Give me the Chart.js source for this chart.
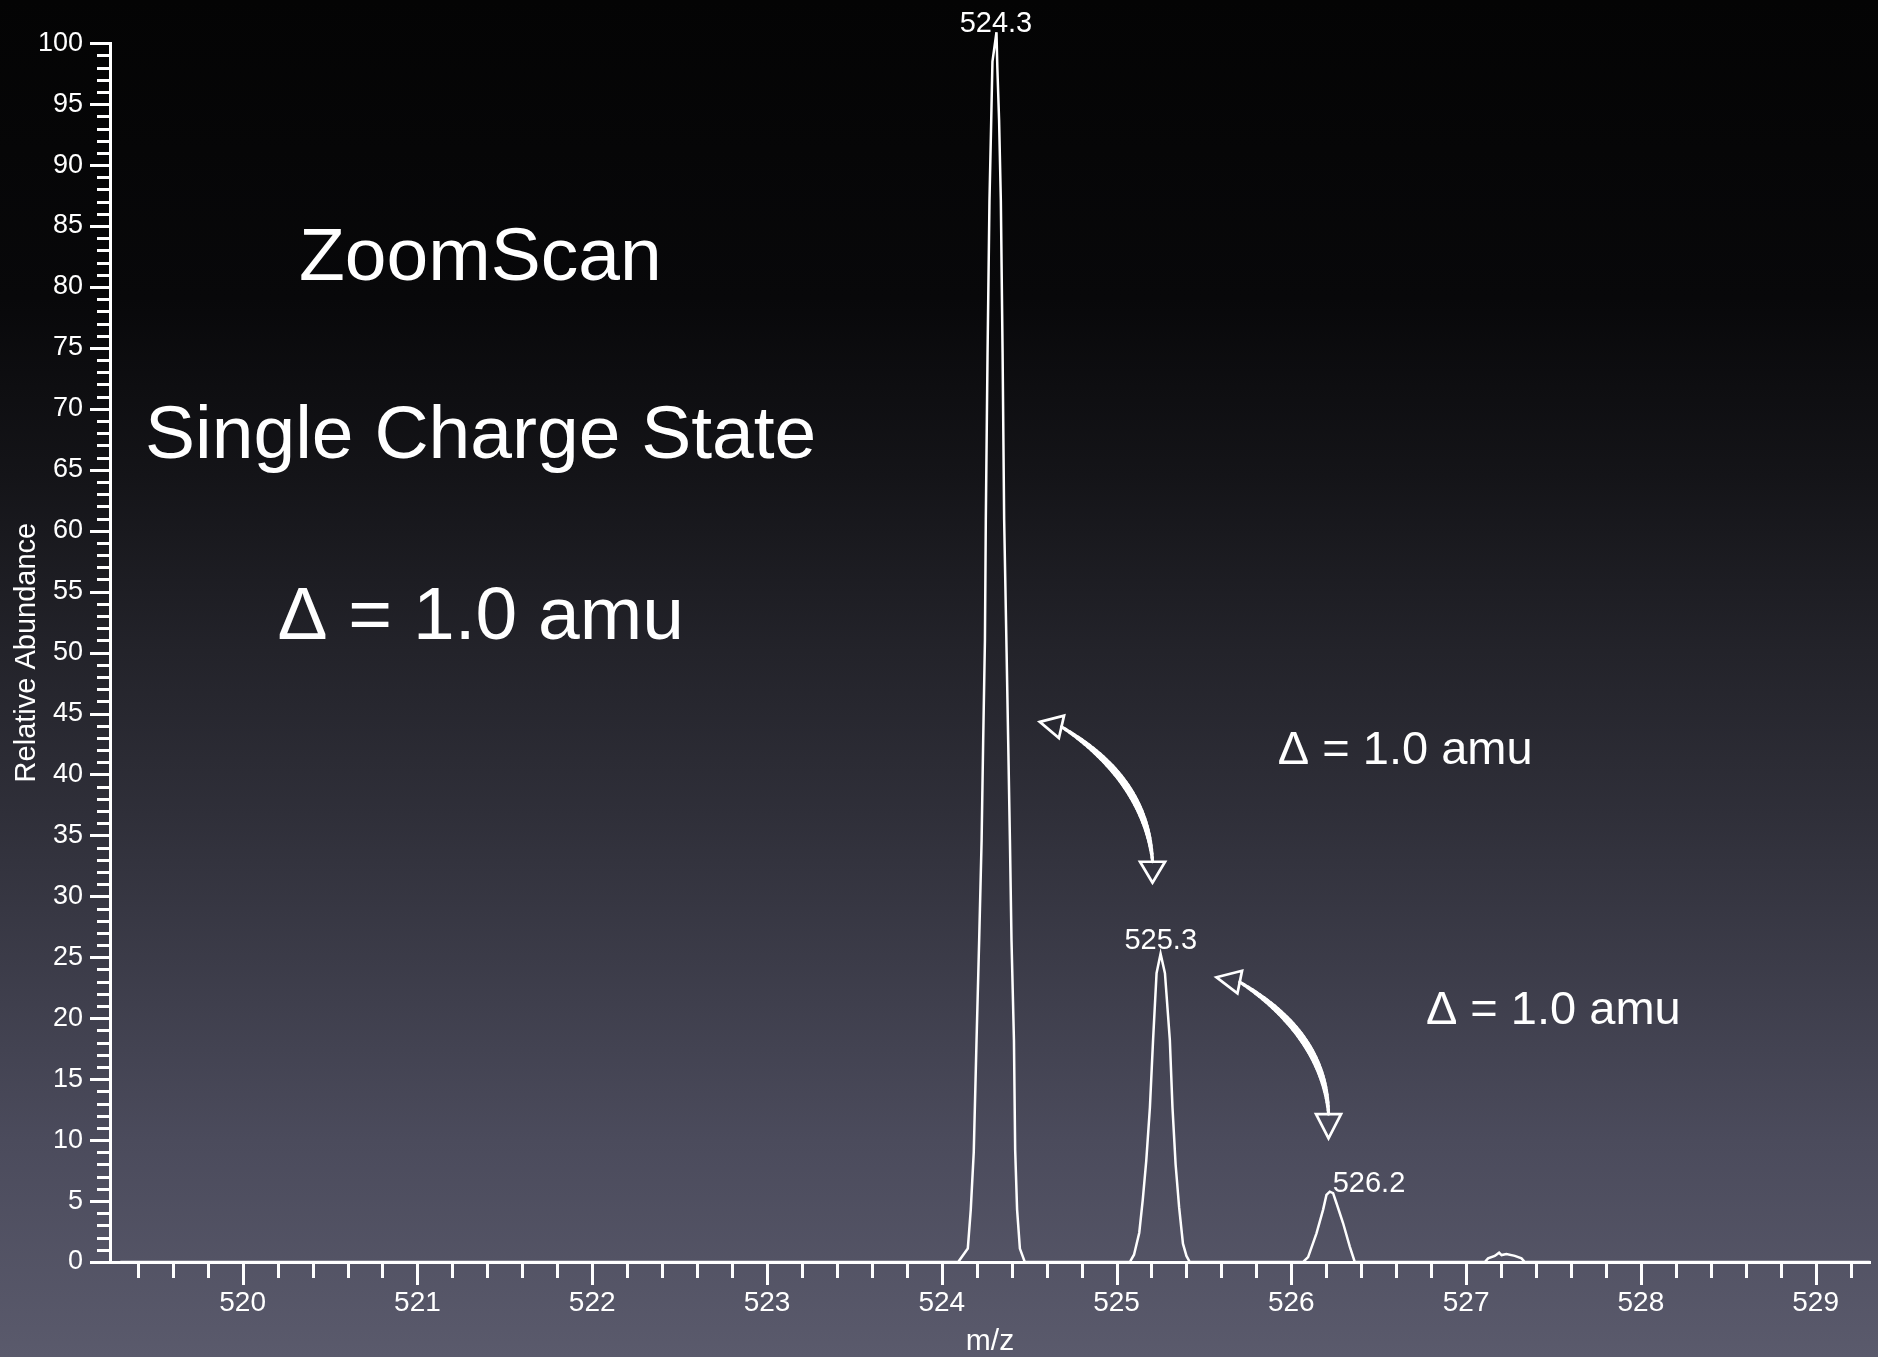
<!DOCTYPE html>
<html>
<head>
<meta charset="utf-8">
<script src="https://cdn.jsdelivr.net/npm/chart.js@4.4.1/dist/chart.umd.min.js"></script>
<style>
  html, body { margin: 0; padding: 0; }
  body {
    width: 1878px; height: 1357px; overflow: hidden;
    background: linear-gradient(to bottom, #040404 0%, #08080a 22%, #141418 35%, #23232a 48%,
      #2f2f39 60%, #3f3f4d 74%, #4b4b5c 84%, #5a5a6c 100%);
  }
  canvas { display: block; }
</style>
</head>
<body>
<canvas id="spectrum" width="1878" height="1357"></canvas>
<script>
const FONT = "'Liberation Sans', Arial, Helvetica, sans-serif";

// profile spectrum, m/z vs relative abundance
const mz = [
  519.30,
  524.094, 524.149, 524.166, 524.183, 524.199, 524.214, 524.228, 524.237, 524.247, 524.252,
  524.262, 524.273, 524.283, 524.290, 524.313, 524.318, 524.328, 524.338, 524.348, 524.357,
  524.371, 524.380, 524.390, 524.399, 524.413, 524.420, 524.431, 524.447, 524.475,
  525.076, 525.100, 525.130, 525.150, 525.170, 525.191, 525.209, 525.229, 525.252, 525.277,
  525.305, 525.320, 525.338, 525.358, 525.380, 525.400, 525.419,
  526.068, 526.096, 526.144, 526.182, 526.201, 526.220, 526.239, 526.259, 526.296, 526.335, 526.363,
  527.107, 527.126, 527.164, 527.189, 527.203, 527.231, 527.279, 527.317, 527.336,
  529.31
];
const abundance = [
  0,
  0, 1.1, 4.3, 9.0, 18.2, 26.4, 34.6, 42.8, 51.0, 60.9,
  74.6, 87.1, 93.7, 98.5, 100.9, 98.0, 93.7, 87.1, 74.6, 60.9,
  50.0, 42.8, 34.6, 26.4, 18.2, 9.2, 4.3, 1.1, 0,
  0, 0.6, 2.4, 5.1, 8.3, 12.7, 18.2, 23.7, 25.3, 23.7,
  18.2, 12.7, 8.0, 4.5, 1.5, 0.5, 0,
  0, 0.4, 2.35, 4.3, 5.5, 5.77, 5.65, 4.8, 3.2, 1.25, 0,
  0, 0.3, 0.5, 0.76, 0.57, 0.66, 0.5, 0.3, 0,
  0
];

// axes
const xTickLabels = [520, 521, 522, 523, 524, 525, 526, 527, 528, 529];
const yTickLabels = [0, 5, 10, 15, 20, 25, 30, 35, 40, 45, 50, 55, 60, 65, 70, 75, 80, 85, 90, 95, 100];
const xRange = [519.241, 529.311];
const xMinorStep = 0.2;
const yMinorStep = 1;

// peak labels
const peakLabels = ['524.3', '525.3', '526.2'];
const peakLabelMz = [524.31, 525.253, 526.237];
const peakLabelAbundance = [100.9, 25.72, 5.74];
const peakLabelAlign = ['center', 'center', 'left'];

// slide text
const noteTexts = ['ZoomScan', 'Single Charge State', '\u0394 = 1.0 amu', '\u0394 = 1.0 amu', '\u0394 = 1.0 amu'];
const noteMz = [521.360, 521.362, 521.362, 525.923, 526.770];
const noteAbundance = [80.55, 65.95, 51.1, 40.9, 19.55];
const noteSize = [75, 75, 75, 47, 47];
const noteAlign = ['center', 'center', 'center', 'left', 'left'];

// curved double arrows between isotope peaks [m/z, abundance]
const arrowTipStart  = [[524.561, 44.32], [525.572, 23.36]];
const arrowBaseStart = [[524.685, 43.91], [525.705, 22.97]];
const arrowControl   = [[525.169, 39.61], [526.189, 18.66]];
const arrowBaseEnd   = [[525.206, 32.84], [526.213, 12.14]];
const arrowTipEnd    = [[525.206, 31.12], [526.213, 10.15]];

function px(scales, p) {
  return [scales.x.getPixelForValue(p[0]), scales.y.getPixelForValue(p[1])];
}

function arrowHead(ctx, tip, base, halfW) {
  const dx = tip[0] - base[0], dy = tip[1] - base[1];
  const len = Math.hypot(dx, dy);
  const nx = -dy / len, ny = dx / len;
  ctx.beginPath();
  ctx.moveTo(tip[0], tip[1]);
  ctx.lineTo(base[0] + nx * halfW, base[1] + ny * halfW);
  ctx.lineTo(base[0] - nx * halfW, base[1] - ny * halfW);
  ctx.closePath();
  ctx.stroke();
}

const decor = {
  id: 'decor',
  afterDraw(chart) {
    const {ctx, chartArea, scales} = chart;
    const {x, y} = scales;
    ctx.save();
    ctx.strokeStyle = '#fff';
    ctx.fillStyle = '#fff';
    ctx.lineCap = 'butt';
    ctx.lineWidth = 3;

    // y tick marks
    for (let v = 0; v <= 100 + 1e-9; v += yMinorStep) {
      const py = Math.round(y.getPixelForValue(v)) + 0.5;
      const len = yTickLabels.includes(Math.round(v)) ? 20 : 13;
      ctx.beginPath();
      ctx.moveTo(chartArea.left - len, py);
      ctx.lineTo(chartArea.left, py);
      ctx.stroke();
    }
    // x tick marks
    const first = Math.ceil(xRange[0] / xMinorStep) * xMinorStep;
    for (let v = first; v <= xRange[1]; v += xMinorStep) {
      const r = Math.round(v * 10) / 10;
      const pxv = Math.round(x.getPixelForValue(r)) + 0.5;
      const len = xTickLabels.includes(r) ? 23 : 16;
      ctx.beginPath();
      ctx.moveTo(pxv, chartArea.bottom);
      ctx.lineTo(pxv, chartArea.bottom + len);
      ctx.stroke();
    }

    // peak labels
    ctx.font = '29px ' + FONT;
    ctx.textBaseline = 'alphabetic';
    peakLabels.forEach((t, i) => {
      const p = px(scales, [peakLabelMz[i], peakLabelAbundance[i]]);
      ctx.textAlign = peakLabelAlign[i];
      ctx.fillText(t, p[0], p[1]);
    });

    // slide text
    noteTexts.forEach((t, i) => {
      const p = px(scales, [noteMz[i], noteAbundance[i]]);
      ctx.font = noteSize[i] + 'px ' + FONT;
      ctx.textAlign = noteAlign[i];
      ctx.fillText(t, p[0], p[1]);
    });

    // curved arrows, thicker in the middle
    ctx.lineCap = 'round';
    for (let k = 0; k < arrowTipStart.length; k++) {
      const b0 = px(scales, arrowBaseStart[k]);
      const c = px(scales, arrowControl[k]);
      const b1 = px(scales, arrowBaseEnd[k]);
      const n = 40;
      let prev = b0;
      for (let i = 1; i <= n; i++) {
        const t = i / n, u = 1 - t;
        const q = [u * u * b0[0] + 2 * u * t * c[0] + t * t * b1[0],
                   u * u * b0[1] + 2 * u * t * c[1] + t * t * b1[1]];
        ctx.lineWidth = 3 + 4.5 * Math.sin(Math.PI * (t - 0.5 / n));
        ctx.beginPath();
        ctx.moveTo(prev[0], prev[1]);
        ctx.lineTo(q[0], q[1]);
        ctx.stroke();
        prev = q;
      }
      ctx.lineWidth = 2.7;
      ctx.lineJoin = 'miter';
      arrowHead(ctx, px(scales, arrowTipStart[k]), b0, 11.5);
      arrowHead(ctx, px(scales, arrowTipEnd[k]), b1, 12.5);
    }
    ctx.restore();
  }
};

new Chart(document.getElementById('spectrum'), {
  type: 'line',
  data: {
    datasets: [{
      data: mz.map((m, i) => ({x: m, y: abundance[i]})),
      borderColor: '#fff',
      borderWidth: 2.5,
      pointRadius: 0,
      tension: 0,
      fill: false,
      clip: false
    }]
  },
  options: {
    responsive: false,
    animation: false,
    devicePixelRatio: 1,
    events: [],
    layout: { padding: { top: 43, right: 8, bottom: 0, left: 0 } },
    plugins: { legend: { display: false }, tooltip: { enabled: false } },
    scales: {
      x: {
        type: 'linear',
        min: xRange[0],
        max: xRange[1],
        afterBuildTicks: s => { s.ticks = xTickLabels.map(v => ({value: v})); },
        afterFit: s => { s.height = 95; },
        grid: { display: false, drawTicks: false },
        border: { display: true, color: '#fff', width: 3 },
        ticks: {
          color: '#fff', font: { family: FONT, size: 28 }, padding: 24,
          autoSkip: false, maxRotation: 0, minRotation: 0,
          callback: v => String(v)
        },
        title: {
          display: true, text: 'm/z', color: '#fff',
          font: { family: FONT, size: 30, lineHeight: 1 }, padding: { top: 0, bottom: 0 }
        }
      },
      y: {
        type: 'linear',
        min: 0,
        max: 100,
        afterBuildTicks: s => { s.ticks = yTickLabels.map(v => ({value: v})); },
        afterFit: s => { s.width = 110; },
        grid: { display: false, drawTicks: false },
        border: { display: true, color: '#fff', width: 3 },
        ticks: {
          color: '#fff', font: { family: FONT, size: 27 }, padding: 27,
          autoSkip: false, callback: v => String(v)
        },
        title: {
          display: true, text: 'Relative Abundance', color: '#fff',
          font: { family: FONT, size: 29, lineHeight: 1 }, padding: { top: 12, bottom: 0 }
        }
      }
    }
  },
  plugins: [decor]
});
</script>
</body>
</html>
